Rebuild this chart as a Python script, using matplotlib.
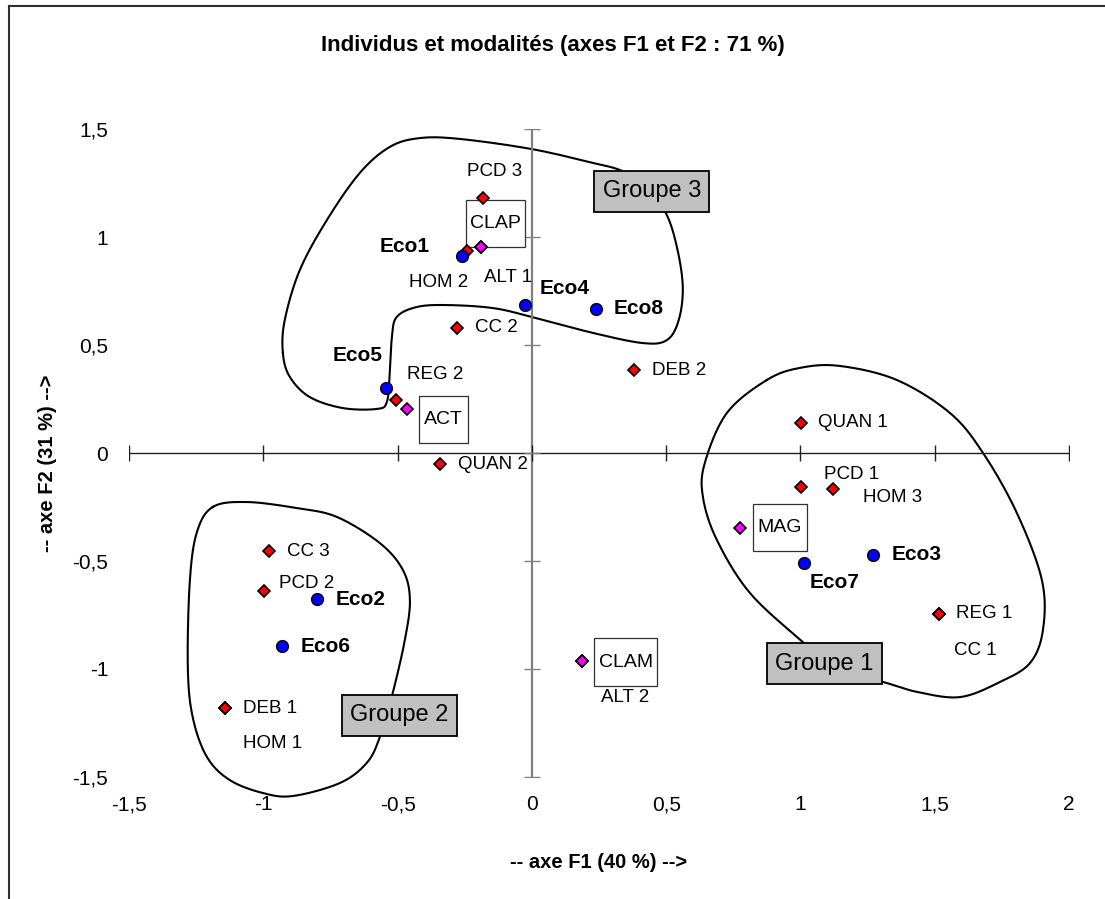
import numpy as np
import matplotlib.pyplot as plt
import matplotlib.transforms as mtransforms
from matplotlib.patches import Rectangle
from matplotlib.lines import Line2D

plt.rcParams['font.family'] = ['Liberation Sans', 'DejaVu Sans']

# individus (blue dots)
eco_names = ['Eco1', 'Eco2', 'Eco3', 'Eco4', 'Eco5', 'Eco6', 'Eco7', 'Eco8']
eco_x = [-0.261, -0.801, 1.270, -0.026, -0.544, -0.931, 1.013, 0.238]
eco_y = [0.912, -0.676, -0.472, 0.685, 0.301, -0.894, -0.509, 0.667]

# modalites actives (red diamonds)
mod_names = ['PCD 3', 'HOM 2', 'ALT 1', 'CC 2', 'REG 2', 'QUAN 2', 'DEB 2', 'QUAN 1',
             'PCD 1', 'HOM 3', 'REG 1', 'CC 1', 'CC 3', 'PCD 2', 'DEB 1', 'HOM 1', 'ALT 2']
mod_x = [-0.182, -0.242, -0.190, -0.279, -0.507, -0.343, 0.380, 1.002,
         1.002, 1.121, 1.516, 1.516, -0.980, -0.998, -1.143, -1.143, 0.186]
mod_y = [1.181, 0.935, 0.954, 0.579, 0.245, -0.051, 0.384, 0.139,
         -0.157, -0.167, -0.745, -0.745, -0.454, -0.639, -1.181, -1.181, -0.963]

# modalites supplementaires (magenta diamonds)
sup_names = ['CLAP', 'ACT', 'MAG', 'CLAM']
sup_x = [-0.190, -0.466, 0.775, 0.186]
sup_y = [0.954, 0.204, -0.347, -0.963]

# hand drawn group outlines
groupe3_x = [-0.927, -0.901, -0.827, -0.704, -0.577, -0.540, -0.529, -0.521, -0.503, -0.428,
             -0.317, -0.145, 0.000, 0.227, 0.413, 0.503, 0.547, 0.562, 0.540, 0.499,
             0.421, 0.328, 0.227, 0.000, -0.268, -0.417, -0.529, -0.641, -0.763, -0.864, -0.920]
groupe3_y = [0.463, 0.352, 0.259, 0.208, 0.204, 0.236, 0.370, 0.537, 0.630, 0.676,
             0.685, 0.671, 0.630, 0.556, 0.509, 0.523, 0.616, 0.769, 0.954, 1.111,
             1.250, 1.310, 1.343, 1.407, 1.454, 1.458, 1.417, 1.296, 1.079, 0.847, 0.616]
groupe2_x = [-1.188, -1.061, -0.875, -0.726, -0.566, -0.480, -0.454, -0.473, -0.518, -0.566,
             -0.615, -0.715, -0.890, -1.002, -1.125, -1.210, -1.263, -1.281, -1.274, -1.248]
groupe2_y = [-0.250, -0.227, -0.255, -0.296, -0.417, -0.542, -0.681, -0.866, -1.111, -1.315,
             -1.435, -1.528, -1.588, -1.574, -1.514, -1.407, -1.222, -0.991, -0.602, -0.370]
groupe1_x = [0.875, 0.726, 0.644, 0.637, 0.689, 0.812, 1.009, 1.147, 1.307, 1.434, 1.594,
             1.743, 1.855, 1.903, 1.899, 1.806, 1.680, 1.557, 1.359, 1.147, 0.998]
groupe1_y = [0.338, 0.185, -0.046, -0.204, -0.403, -0.648, -0.875, -1.014, -1.060, -1.106, -1.130,
             -1.060, -0.972, -0.819, -0.588, -0.278, 0.000, 0.185, 0.338, 0.403, 0.394]

groupe_names = ['Groupe 1', 'Groupe 2', 'Groupe 3']
groupe_lx = [1.089, -0.493, 0.447]
groupe_ly = [-0.975, -1.215, 1.211]

xticks = [-1.5, -1, -0.5, 0, 0.5, 1, 1.5, 2]
yticks = [-1.5, -1, -0.5, 0, 0.5, 1, 1.5]


def fmt(v):
    return ('%g' % v).replace('.', ',')


def closed_curve(xs, ys, n=24):
    p = np.column_stack([xs, ys])
    N = len(p)
    t = np.linspace(0, 1, n, endpoint=False)[:, None]
    seg = []
    for i in range(N):
        p0, p1, p2, p3 = p[i - 1], p[i], p[(i + 1) % N], p[(i + 2) % N]
        seg.append(0.5 * (2 * p1 + (-p0 + p2) * t + (2 * p0 - 5 * p1 + 4 * p2 - p3) * t ** 2
                          + (-p0 + 3 * p1 - 3 * p2 + p3) * t ** 3))
    c = np.vstack(seg + [p[:1]])
    return c[:, 0], c[:, 1]


fig = plt.figure(figsize=(11.05, 8.99), dpi=100)
ax = fig.add_axes([129 / 1105, 1 - 777 / 899, 940 / 1105, 648 / 899])
ax.set_xlim(-1.5, 2)
ax.set_ylim(-1.5, 1.5)
for s in ax.spines.values():
    s.set_visible(False)
ax.set_xticks(xticks, [fmt(v) for v in xticks])
ax.set_yticks(yticks, [fmt(v) for v in yticks])
ax.tick_params(length=0, labelsize=15)
ax.tick_params(axis='x', pad=13)
ax.tick_params(axis='y', pad=15)


def px_box(x, y, dx, dy, w, h, **kw):
    tr = fig.dpi_scale_trans + mtransforms.ScaledTranslation(x, y, ax.transData)
    r = Rectangle(((dx - w / 2) / 100, (dy - h / 2) / 100), w / 100, h / 100,
                  transform=tr, clip_on=False, **kw)
    ax.add_patch(r)


# outlines
for gx, gy in [(groupe1_x, groupe1_y), (groupe2_x, groupe2_y), (groupe3_x, groupe3_y)]:
    cx, cy = closed_curve(gx, gy)
    ax.plot(cx, cy, color='black', lw=1.5, clip_on=False, zorder=1)

# axes through origin
ax.plot([-1.5, 2], [0, 0], color='#202020', lw=1, zorder=2)
ax.plot([0, 0], [-1.5, 1.5], color='#808080', lw=1.6, zorder=2)
ax.plot(xticks, [0] * len(xticks), ls='none', marker='|', ms=11, mew=1, color='#202020', zorder=2)
ax.plot([0] * len(yticks), yticks, ls='none', marker='_', ms=11, mew=1, color='#808080', zorder=2)

# boxed supplementary labels
sup_off = [(15, 23, 59, 47), (37, -11, 49, 47), (40, 0, 54, 47), (44, -1, 63, 48)]
for name, x, y, (dx, dy, w, h) in zip(sup_names, sup_x, sup_y, sup_off):
    px_box(x, y, dx, dy, w, h, facecolor='white', edgecolor='#303030', lw=0.9, zorder=2.5)
    ax.annotate(name, (x, y), xytext=(dx, dy), textcoords='offset pixels',
                ha='center', va='center', fontsize=14, zorder=6)

# points
ax.plot(mod_x, mod_y, ls='none', marker='D', ms=6.2, mfc='#FF0000', mec='black', mew=1.2, zorder=3)
ax.plot(sup_x, sup_y, ls='none', marker='D', ms=6.2, mfc='#FF00FF', mec='black', mew=1.2, zorder=3.2)
ax.plot(eco_x, eco_y, ls='none', marker='o', ms=8.5, mfc='#0000FF', mec='black', mew=1.0, zorder=3.4)

eco_off = [(-32, 10, 'right'), (19, 0, 'left'), (19, 0, 'left'), (15, 17, 'left'),
           (-3, 32, 'right'), (19, 0, 'left'), (6, -20, 'left'), (18, 0, 'left')]
for name, x, y, (dx, dy, ha) in zip(eco_names, eco_x, eco_y, eco_off):
    ax.annotate(name, (x, y), xytext=(dx, dy), textcoords='offset pixels',
                ha=ha, va='center', fontsize=15, fontweight='bold', zorder=6)

mod_off = [(12, 26, 'center'), (1, -31, 'right'), (3, -31, 'left'), (18, 0, 'left'),
           (11, 26, 'left'), (18, 0, 'left'), (18, 0, 'left'), (17, 0, 'left'),
           (23, 12, 'left'), (30, -8, 'left'), (17, 0, 'left'), (15, -37, 'left'),
           (18, 0, 'left'), (15, 8, 'left'), (18, 0, 'left'), (18, -35, 'left'),
           (19, -36, 'left')]
for name, x, y, (dx, dy, ha) in zip(mod_names, mod_x, mod_y, mod_off):
    ax.annotate(name, (x, y), xytext=(dx, dy), textcoords='offset pixels',
                ha=ha, va='center', fontsize=13.5, zorder=6)

# group labels
for name, x, y in zip(groupe_names, groupe_lx, groupe_ly):
    px_box(x, y, 0, 0, 115, 41, facecolor='#C0C0C0', edgecolor='black', lw=1.3, zorder=4)
    ax.text(x, y, name, ha='center', va='center', fontsize=17, zorder=6)

fig.text(553 / 1105, 1 - 45 / 899, 'Individus et modalités (axes F1 et F2 : 71 %)',
         ha='center', va='center', fontsize=16, fontweight='bold')
fig.text(599 / 1105, 1 - 862 / 899, '-- axe F1 (40 %) -->',
         ha='center', va='center', fontsize=14.5, fontweight='bold')
fig.text(48 / 1105, 1 - 463 / 899, '-- axe F2 (31 %) -->', rotation=90,
         ha='center', va='center', fontsize=14.5, fontweight='bold')

# chart area border (left and top edges visible)
fig.add_artist(Line2D([9 / 1105, 9 / 1105], [0, 1 - 6 / 899], transform=fig.transFigure,
                      color='#303030', lw=1.5))
fig.add_artist(Line2D([9 / 1105, 1], [1 - 6 / 899, 1 - 6 / 899], transform=fig.transFigure,
                      color='#303030', lw=1.5))

fig.savefig('out.png', dpi=100)
